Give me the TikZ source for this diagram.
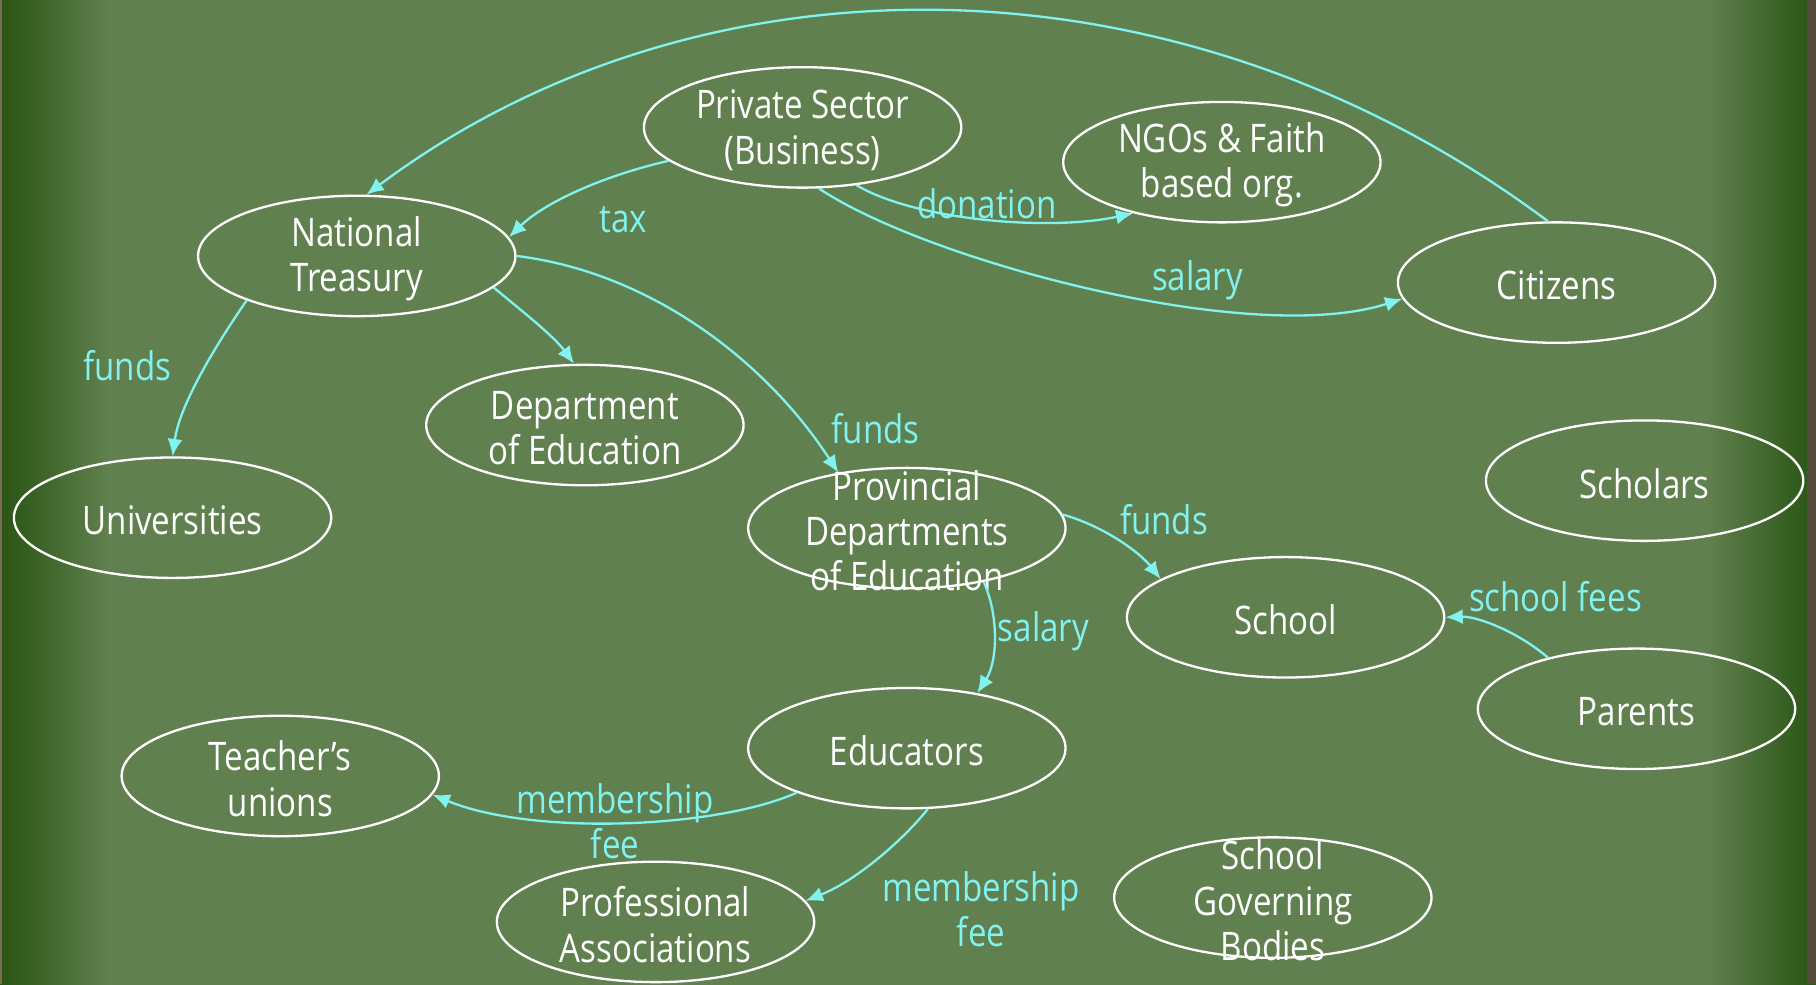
\documentclass[tikz,border=0pt]{standalone}
\usepackage{fontspec}
\setmainfont{Open Sans}[FakeStretch=0.84]
\usetikzlibrary{shapes.geometric,arrows.meta}
\definecolor{bgmid}{HTML}{61804F}
\definecolor{bgedge}{HTML}{2B5616}
\definecolor{bgrim}{HTML}{7A6C55}
\definecolor{arrowc}{HTML}{80F2F0}
\pgfdeclarehorizontalshading{bgshade}{100bp}{color(0bp)=(bgedge); color(25bp)=(bgedge); color(25.6bp)=(bgedge!85!bgmid); color(28bp)=(bgmid); color(72bp)=(bgmid); color(74.4bp)=(bgedge!85!bgmid); color(75bp)=(bgedge); color(100bp)=(bgedge)}
\newcommand{\nodefont}{\fontsize{17}{19.5}\selectfont}
\tikzset{
  ell/.style={ellipse, draw=white, line width=1pt, minimum width=137pt, minimum height=52pt, inner sep=0pt},
  txt/.style={text=white, align=center, font=\nodefont, inner sep=0pt, yshift=-1.2pt},
  lbl/.style={text=arrowc, align=center, font=\nodefont, inner sep=0pt},
  arr/.style={draw=arrowc, line width=1pt, -{Latex[length=7.5pt,width=6.5pt]}}
}
\begin{document}
\begin{tikzpicture}[x=0.5pt,y=-0.5pt]
\useasboundingbox (0,0) rectangle (1568,850);
\shade[shading=bgshade] (0,0) rectangle (1568,850);
\fill[bgrim] (0,0) rectangle (2,850);
\fill[bgrim!70!black] (1560,0) rectangle (1568,850);
% nodes
\node[ell] (nt) at (308,221) {};
\node[txt] at (nt) {National\\Treasury};
\node[ell] (ps) at (693,110) {};
\node[txt] at (ps) {Private Sector\\(Business)};
\node[ell] (ngo) at (1055,140) {};
\node[txt] at (ngo) {NGOs \& Faith\\based org.};
\node[ell] (cit) at (1344,244) {};
\node[txt] at (cit) {Citizens};
\node[ell] (doe) at (505,367) {};
\node[txt] at (doe) {Department\\of Education};
\node[ell] (uni) at (149,447) {};
\node[txt] at (uni) {Universities};
\node[ell] (pde) at (783,456) {};
\node[txt] at (pde) {Provincial\\Departments\\of Education};
\node[ell] (sch) at (1420,415) {};
\node[txt] at (sch) {Scholars};
\node[ell] (school) at (1110,533) {};
\node[txt] at (school) {School};
\node[ell] (par) at (1413,612) {};
\node[txt] at (par) {Parents};
\node[ell] (edu) at (783,646) {};
\node[txt] at (edu) {Educators};
\node[ell] (tu) at (242,670) {};
\node[txt] at (tu) {Teacher’s\\unions};
\node[ell] (pa) at (566,796) {};
\node[txt] at (pa) {Professional\\Associations};
\node[ell] (sgb) at (1099,775) {};
\node[txt] at (sgb) {School\\Governing\\Bodies};
% connectors
\draw[arr] (cit.98) .. controls (1018,-47) and (604,-47) .. (nt.81);
\draw[arr] (ps.194) .. controls (520,152) and (470,175) .. (nt.7);
\draw[arr] (ps.-47) .. controls (790,190) and (905,200) .. (ngo.210);
\draw[arr] (ps.-75) .. controls (800,225) and (1080,300) .. (cit.186);
\draw[arr] (nt.-13) .. controls (450,268) and (478,290) .. (doe.100);
\draw[arr] (nt.202) .. controls (185,300) and (155,350) .. (uni.north);
\draw[arr] (nt.east) .. controls (560,235) and (660,310) .. (pde.141);
\draw[arr] (pde.5) .. controls (955,455) and (985,478) .. (school.163);
\draw[arr] (pde.-35) .. controls (862,530) and (862,570) .. (edu.38);
\draw[arr] (par.150) .. controls (1310,545) and (1275,532) .. (school.east);
\draw[arr] (edu.202) .. controls (620,715) and (460,722) .. (tu.-7);
\draw[arr] (edu.-71) .. controls (780,725) and (740,760) .. (pa.8);
% labels
\node[lbl] (l1) at (538,190) {tax};
\node[lbl] (l2) at (852,176) {donation};
\node[lbl] (l3) at (1034,242) {salary};
\node[lbl] (l4) at (110,316) {funds};
\node[lbl] (l5) at (756,370) {funds};
\node[lbl] (l6) at (1005,449) {funds};
\node[lbl] (l7) at (901,545) {salary};
\node[lbl] (l8) at (1343,515) {school fees};
\node[lbl] (l9) at (531,709) {membership\\fee};
\node[lbl] (l10) at (847,785) {membership\\fee};
\end{tikzpicture}
\end{document}
